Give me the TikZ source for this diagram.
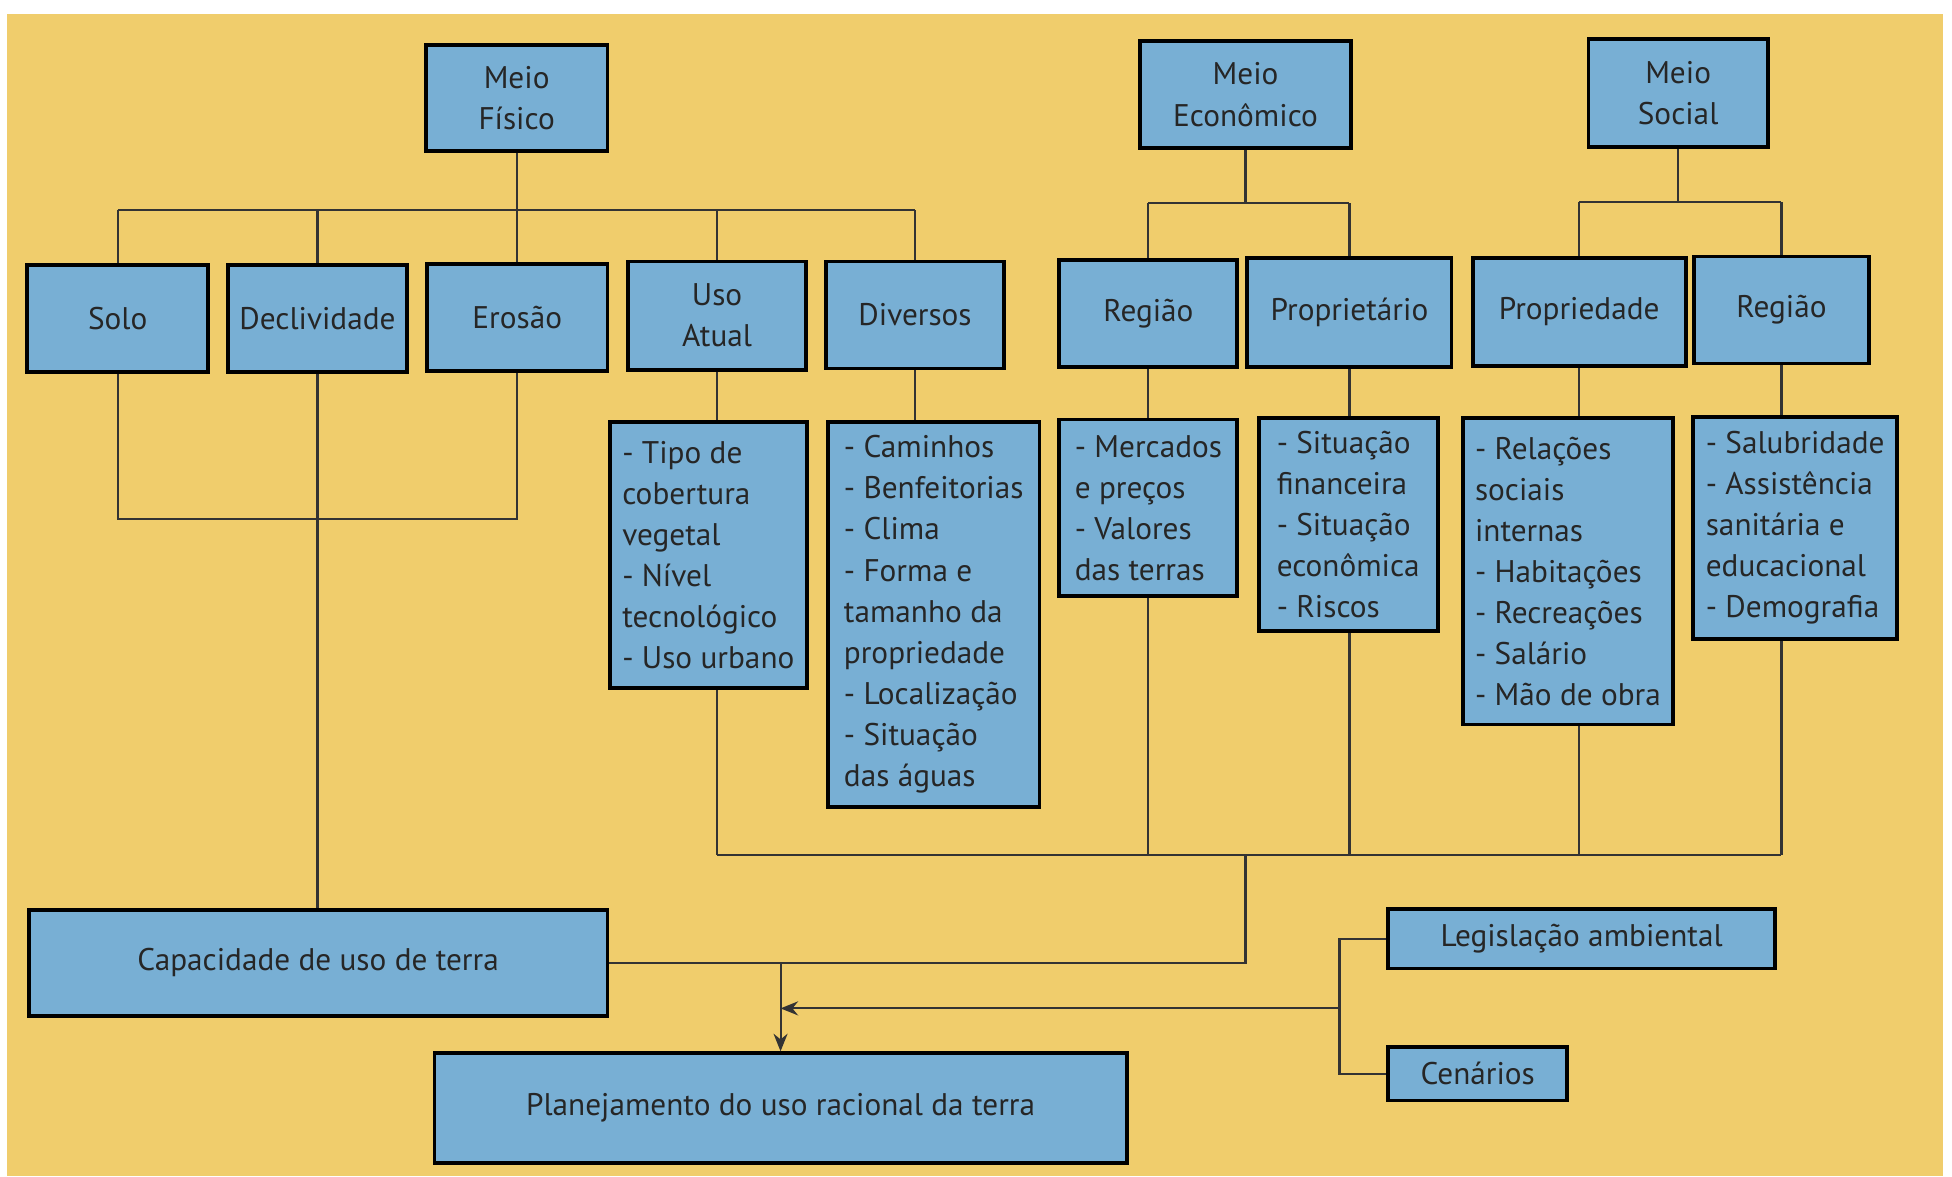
\documentclass[tikz,border=0pt]{standalone}
\usepackage{fontspec}
\setmainfont{PT Sans}
\usetikzlibrary{arrows.meta}
\definecolor{amarelo}{RGB}{240,205,108}
\definecolor{azul}{RGB}{120,175,212}
\newcommand{\unid}{0.35421pt}
\tikzset{
  caixa/.style={draw=black, line width=1.1pt, fill=azul, inner sep=0pt, align=center, text=black!85},
  lista/.style={caixa, align=left},
  liga/.style={line width=0.6pt, draw=black!80},
  seta/.style={liga, -{Stealth[length=5pt,width=4pt]}}
}
\begin{document}
\begin{tikzpicture}[x=0.012449cm, y={(0,-0.012449cm)}, font=\fontsize{8.9}{11.7}\selectfont]
	\useasboundingbox (0,0) rectangle (1568,945);
	\fill[amarelo] (6,11) rectangle (1561,945);
	% caixas simples
	\foreach \nome/\x/\y/\w/\h/\txt in {fis/415/78.5/146/85/{Meio\\Físico}, eco/1000.5/76/169/86/{Meio\\Econômico},
		soc/1348/74.5/144/87/{Meio\\Social}, solo/94.5/256/145/86/Solo, decl/255/256/144/86/Declividade,
		eros/415.5/255/145/86/Erosão, uso/576/253.5/143/87/{Uso\\Atual}, div/735/253/143/86/Diversos,
		regE/922.5/252/143/86/Região, prop/1084/251/164/88/Proprietário, prdd/1268.5/250.5/171/87/Propriedade,
		regS/1431/249/140/86/Região, cap/255.5/773.5/465/85/Capacidade de uso de terra,
		plan/627/890/556/88/Planejamento do uso racional da terra, leg/1270.5/754/311/48/Legislação ambiental,
		cen/1187/862.5/144/43/Cenários}{
		\node[caixa, minimum width=\w*\unid, minimum height=\h*\unid] (\nome) at (\x,\y) {\txt};
	}
	% listas
	\foreach \nome/\x/\y/\w/\h/\txt in {l1/569/446/158/214/{- Tipo de\\cobertura\\vegetal\\- Nível\\tecnológico\\- Uso urbano},
		l2/750/493.5/170/309/{- Caminhos\\- Benfeitorias\\- Clima\\- Forma e\\tamanho da\\propriedade\\- Localização\\- Situação\\das águas},
		l3/922.5/408/143/142/{- Mercados\\e preços\\- Valores\\das terras},
		l4/1083/421.5/144/171/{- Situação\\financeira\\- Situação\\econômica\\- Riscos},
		l5/1259.5/459/169/246/{- Relações\\sociais\\internas\\- Habitações\\- Recreações\\- Salário\\- Mão de obra},
		l6/1442/424/164/178/{- Salubridade\\- Assistência\\sanitária e\\educacional\\- Demografia}}{
		\node[lista, minimum width=\w*\unid, minimum height=\h*\unid] (\nome) at (\x,\y) {\txt};
	}
	\path (0,169) coordinate (busF) (0,163) coordinate (busE) (0,162) coordinate (busS)
		(0,417) coordinate (busSE) (0,687) coordinate (busB) (1076,810) coordinate (colch);
	% arvores de cima
	\draw[liga] (fis.south)--(fis.south |- busF) (solo.north |- busF)--(div.north |- busF);
	\foreach \c in {solo,decl,eros,uso,div}{\draw[liga] (\c.north)--(\c.north |- busF);}
	\draw[liga] (eco.south)--(eco.south |- busE) (regE.north |- busE)--(prop.north |- busE);
	\draw[liga] (soc.south)--(soc.south |- busS) (prdd.north |- busS)--(regS.north |- busS);
	\foreach \c in {regE,prop}{\draw[liga] (\c.north)--(\c.north |- busE);}
	\foreach \c in {prdd,regS}{\draw[liga] (\c.north)--(\c.north |- busS);}
	% meio fisico para capacidade
	\draw[liga] (solo.south)--(solo.south |- busSE)--(eros.south |- busSE)--(eros.south);
	\draw[liga] (decl.south)--(decl.south |- cap.north);
	% listas
	\foreach \a/\b in {uso/l1,div/l2,regE/l3,prop/l4,prdd/l5,regS/l6}{\draw[liga] (\a.south)--(\a.south |- \b.north);}
	\foreach \a/\b in {uso/l1,regE/l3,prop/l4,prdd/l5,regS/l6}{\draw[liga] (\a.south |- \b.south)--(\a.south |- busB);}
	\draw[liga] (uso.south |- busB)--(regS.south |- busB);
	\draw[liga] (eco.south |- busB)--(eco.south |- cap.east)--(cap.east);
	% planejamento
	\draw[seta] (plan.north |- cap.east)--(plan.north);
	\draw[liga] (leg.west)--(leg.west -| colch)--(cen.west -| colch)--(cen.west);
	\draw[seta] (colch)--(colch -| plan.north);
\end{tikzpicture}
\end{document}
